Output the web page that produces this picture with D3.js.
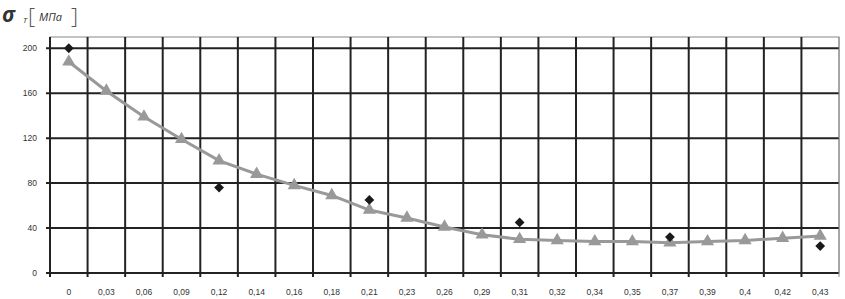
<!DOCTYPE html>
<html>
<head>
<meta charset="utf-8">
<script src="https://cdn.jsdelivr.net/npm/d3@7"></script>
<style>
  body { margin: 0; background: #fff; }
  svg { display: block; font-family: "Open Sans", "DejaVu Sans", sans-serif; }
</style>
</head>
<body>
<svg id="chart"></svg>
<script>
// strain categories (x axis)
const categories = ["0", "0,03", "0,06", "0,09", "0,12", "0,14", "0,16", "0,18", "0,21", "0,23",
  "0,26", "0,29", "0,31", "0,32", "0,34", "0,35", "0,37", "0,39", "0,4", "0,42", "0,43"];

// calculated curve (grey triangles)
const calcValues = [188, 162, 139, 119, 100, 88, 78, 69, 56, 49, 41, 34, 30, 29, 28, 28, 27, 28, 29, 31, 33];

// experiment points (black diamonds)
const expCats = ["0", "0,12", "0,21", "0,31", "0,37", "0,43"];
const expValues = [200, 76, 65, 45, 32, 24];

const yTicks = [0, 40, 80, 120, 160, 200];

const width = 845, height = 299;
const margin = { top: 37, right: 6, bottom: 26, left: 50 };

const svg = d3.select("#chart").attr("width", width).attr("height", height);

const x = d3.scaleBand()
  .domain(categories)
  .range([margin.left, width - margin.right]);

const y = d3.scaleLinear()
  .domain([0, 210])
  .range([height - margin.bottom, margin.top]);

// plot border
svg.append("rect")
  .attr("x", margin.left)
  .attr("y", margin.top)
  .attr("width", width - margin.right - margin.left)
  .attr("height", height - margin.bottom - margin.top)
  .attr("fill", "none")
  .attr("stroke", "#888")
  .attr("stroke-width", 1);

// horizontal grid
svg.append("g")
  .selectAll("line")
  .data(yTicks)
  .enter()
  .append("line")
  .attr("x1", margin.left - 4)
  .attr("x2", width - margin.right)
  .attr("y1", d => y(d))
  .attr("y2", d => y(d))
  .attr("stroke", "#222")
  .attr("stroke-width", 2);

// vertical grid on band edges
const edges = categories.map(c => x(c)).concat([x(categories[categories.length - 1]) + x.bandwidth()]);
svg.append("g")
  .selectAll("line")
  .data(edges)
  .enter()
  .append("line")
  .attr("x1", d => d)
  .attr("x2", d => d)
  .attr("y1", margin.top)
  .attr("y2", y(0) + 4)
  .attr("stroke", (d, i) => i === edges.length - 1 ? "#888" : "#222")
  .attr("stroke-width", (d, i) => i === edges.length - 1 ? 1 : 2);

// axes labels
const xAxis = d3.axisBottom(x).tickSize(0).tickPadding(16);
svg.append("g")
  .attr("transform", `translate(0,${y(0)})`)
  .call(xAxis)
  .call(g => g.select(".domain").remove())
  .selectAll("text")
  .attr("font-size", 8.5)
  .attr("fill", "#333");

const yAxis = d3.axisLeft(y).tickValues(yTicks).tickSize(0).tickPadding(13);
svg.append("g")
  .attr("transform", `translate(${margin.left},0)`)
  .call(yAxis)
  .call(g => g.select(".domain").remove())
  .selectAll("text")
  .attr("font-size", 8.5)
  .attr("fill", "#333");

// curve
const cx = d => x(d) + x.bandwidth() / 2;
const line = d3.line()
  .x((d, i) => cx(categories[i]))
  .y(d => y(d));

svg.append("path")
  .datum(calcValues)
  .attr("d", line)
  .attr("fill", "none")
  .attr("stroke", "#999")
  .attr("stroke-width", 3);

svg.append("g")
  .selectAll("path")
  .data(calcValues)
  .enter()
  .append("path")
  .attr("d", d3.symbol().type(d3.symbolTriangle).size(75))
  .attr("transform", (d, i) => `translate(${cx(categories[i])},${y(d)})`)
  .attr("fill", "#999");

// diamonds = rotated squares
svg.append("g")
  .selectAll("path")
  .data(expValues)
  .enter()
  .append("path")
  .attr("d", d3.symbol().type(d3.symbolSquare).size(48))
  .attr("transform", (d, i) => `translate(${cx(expCats[i])},${y(d)}) rotate(45)`)
  .attr("fill", "#1a1a1a");

// title
svg.append("text").attr("x", 2).attr("y", 22).attr("font-size", 21).attr("font-style", "italic")
  .attr("font-weight", "bold").attr("fill", "#333").text("σ");
svg.append("text").attr("x", 23).attr("y", 23).attr("font-size", 8).attr("font-style", "italic")
  .attr("fill", "#333").text("T");
svg.append("text").attr("x", 28).attr("y", 24).attr("font-size", 22).attr("font-weight", 300)
  .attr("fill", "#555").text("[");
svg.append("text").attr("x", 71).attr("y", 24).attr("font-size", 22).attr("font-weight", 300)
  .attr("fill", "#555").text("]");
svg.append("text").attr("x", 39).attr("y", 21).attr("font-size", 11).attr("font-style", "italic")
  .attr("fill", "#333").text("МПа");
</script>
</body>
</html>
